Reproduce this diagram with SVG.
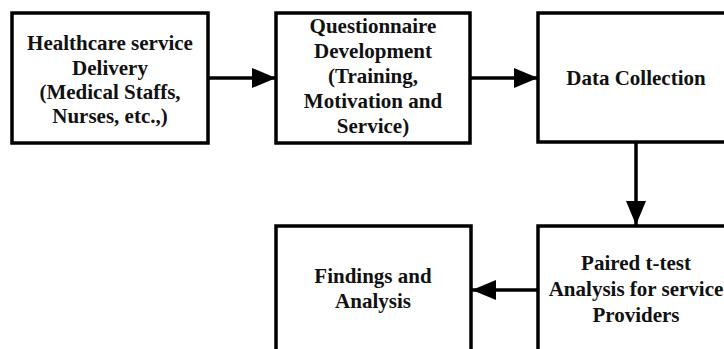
<svg xmlns="http://www.w3.org/2000/svg" width="724" height="349" viewBox="0 0 724 349">
<style>
.box{fill:#fff;stroke:#000;stroke-width:3.5}
.t{font-family:"Liberation Serif","Times New Roman",serif;font-weight:bold;font-size:21px;fill:#111;text-anchor:middle}
.c{stroke:#000;stroke-width:3.5;fill:none}
</style>
<defs>
<marker id="ah" viewBox="0 0 24 20" refX="24" refY="10" markerWidth="24" markerHeight="20" markerUnits="userSpaceOnUse" orient="auto">
<path d="M0,0 L24,10 L0,20 Z" fill="#000"/>
</marker>
</defs>
<rect width="724" height="349" fill="#fff"/>
<g id="n1">
<rect class="box" x="12" y="13" width="196" height="130"/>
<text class="t" x="110" y="50">Healthcare service</text>
<text class="t" x="110" y="75">Delivery</text>
<text class="t" x="110" y="99">(Medical Staffs,</text>
<text class="t" x="110" y="123">Nurses, etc.,)</text>
</g>
<g id="n2">
<rect class="box" x="276" y="13" width="194" height="130"/>
<text class="t" x="373" y="33">Questionnaire</text>
<text class="t" x="373" y="58">Development</text>
<text class="t" x="373" y="83">(Training,</text>
<text class="t" x="373" y="108">Motivation and</text>
<text class="t" x="373" y="133">Service)</text>
</g>
<g id="n3">
<rect class="box" x="538" y="13" width="196" height="129"/>
<text class="t" x="636" y="85">Data Collection</text>
</g>
<g id="n4">
<rect class="box" x="538" y="226" width="196" height="140"/>
<text class="t" x="636" y="270">Paired t-test</text>
<text class="t" x="636" y="296">Analysis for service</text>
<text class="t" x="636" y="322">Providers</text>
</g>
<g id="n5">
<rect class="box" x="276" y="226" width="195" height="140"/>
<text class="t" x="373" y="283">Findings and</text>
<text class="t" x="373" y="308">Analysis</text>
</g>
<g id="connectors">
<line class="c" x1="208" y1="78" x2="276" y2="78" marker-end="url(#ah)"/>
<line class="c" x1="470" y1="78" x2="538" y2="78" marker-end="url(#ah)"/>
<line class="c" x1="636" y1="142" x2="636" y2="225" marker-end="url(#ah)"/>
<line class="c" x1="538" y1="290" x2="472" y2="290" marker-end="url(#ah)"/>
</g>
</svg>
